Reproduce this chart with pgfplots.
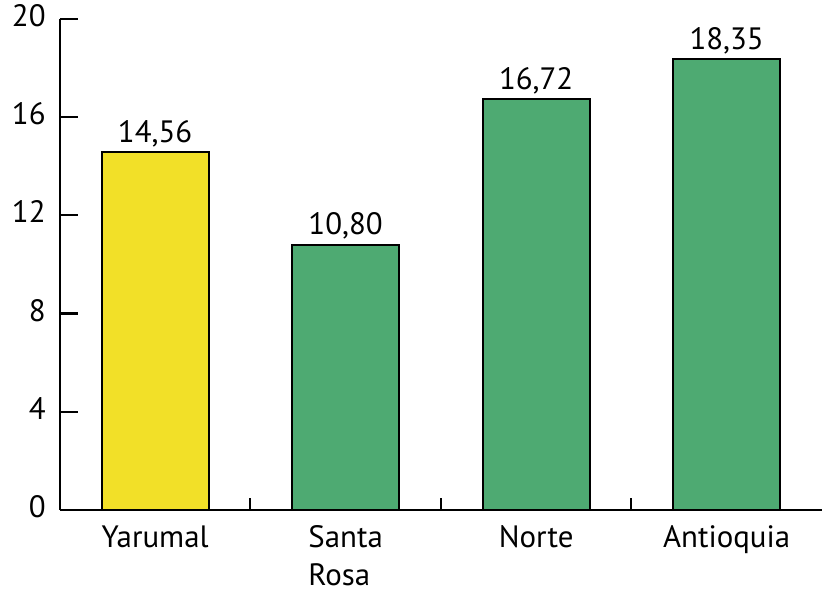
\documentclass[border=0pt]{standalone}
\usepackage{pgfplots}
\pgfplotsset{compat=1.18}
\usepackage{fontspec}
\setmainfont{PT Sans}
\definecolor{baryellow}{RGB}{242,224,40}
\definecolor{bargreen}{RGB}{78,170,114}
\newcommand{\lbl}{\fontsize{31}{38}\selectfont}
\begin{document}
\begin{tikzpicture}
\begin{axis}[
  scale only axis, width=762bp, height=491bp,
  xmin=-0.5, xmax=3.5, ymin=0, ymax=20,
  axis x line=bottom, axis y line=left,
  axis line style={-, line width=2.2bp},
  tick align=inside,
  ytick={0,4,...,20}, major tick length=18bp,
  ytick style={line width=2.2bp, black},
  xtick={0,1,2,3},
  xticklabels={Yarumal,{Santa\\Rosa},Norte,Antioquia},
  xtick style={draw=none},
  typeset ticklabels with strut,
  xticklabel style={align=left, font=\lbl, anchor=north, inner sep=0pt, text depth=10bp, yshift=7bp},
  extra x ticks={0.5,1.5,2.5}, extra x tick labels={},
  extra x tick style={xtick align=inside, major tick length=12bp, xtick style={draw=black, line width=2bp}},
  yticklabel style={font=\lbl, anchor=east, inner sep=0pt, inner xsep=12bp, xshift=-2bp},
  /pgf/number format/assume math mode=true,
  /pgf/number format/use comma,
  ybar, bar width=107bp, bar shift=0pt,
  nodes near coords,
  nodes near coords style={font=\lbl, anchor=base, inner sep=0pt, yshift=10bp, /pgf/number format/.cd, fixed, fixed zerofill, precision=2, use comma, assume math mode=true},
  clip=false,
]
\addplot[fill=baryellow, draw=black, line width=2bp] coordinates {(0,14.56)};
\addplot[fill=bargreen, draw=black, line width=2bp] coordinates {(1,10.80) (2,16.72) (3,18.35)};
\end{axis}
\end{tikzpicture}
\end{document}
